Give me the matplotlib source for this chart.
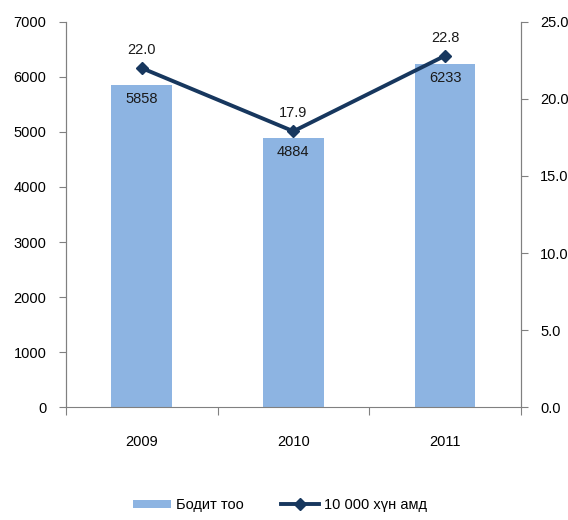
import matplotlib.pyplot as plt
import numpy as np

years = ['2009', '2010', '2011']
counts = [5858, 4884, 6233]
rate = [22.0, 17.9, 22.8]

plt.rcParams['font.family'] = ['Liberation Sans Narrow', 'Liberation Sans', 'DejaVu Sans']
plt.rcParams['font.size'] = 10.5

fig = plt.figure(figsize=(5.68, 5.2), dpi=100)
ax = fig.add_axes([0.116, 0.217, 0.801, 0.741])
ax2 = ax.twinx()

x = np.arange(len(years))
bars = ax.bar(x, counts, width=0.4, color='#8DB4E2', label='Бодит тоо', zorder=1)
for xi, v in zip(x, counts):
    ax.text(xi, v - 130, str(v), ha='center', va='top', color='#1a1a1a')

line, = ax2.plot(x, rate, color='#17375E', lw=2.8, marker='D', ms=6.5, label='10 000 хүн амд')
for xi, v in zip(x, rate):
    ax2.text(xi, v + 0.7, f'{v:.1f}', ha='center', va='bottom', color='#1a1a1a')

ax.set_xlim(-0.5, 2.5)
ax.set_ylim(0, 7000)
ax.set_yticks(range(0, 7001, 1000))
ax2.set_ylim(0, 25)
ax2.set_yticks(np.arange(0, 25.1, 5))
ax2.set_yticklabels([f'{t:.1f}' for t in np.arange(0, 25.1, 5)])

ax.set_xticks([-0.5, 0.5, 1.5, 2.5])
ax.set_xticklabels([])
ax.set_xticks(x, minor=True)
ax.set_xticklabels(years, minor=True)
ax.tick_params(axis='x', which='major', length=6, color='#808080', direction='out')
ax.tick_params(axis='x', which='minor', length=0, pad=20)
ax.tick_params(axis='y', length=5, color='#808080', pad=9)
ax2.tick_params(axis='y', length=5, color='#808080', pad=9)

for a in (ax, ax2):
    a.spines['top'].set_visible(False)
    for s in ('left', 'right', 'bottom'):
        a.spines[s].set_color('#808080')
ax2.spines['bottom'].set_visible(False)

fig.legend([bars, line], ['Бодит тоо', '10 000 хүн амд'], loc='lower center',
           bbox_to_anchor=(0.493, -0.01), ncol=2, frameon=False, handlelength=2.6,
           handleheight=0.5, columnspacing=2.5, handletextpad=0.4)

fig.savefig('out.png', dpi=100)
